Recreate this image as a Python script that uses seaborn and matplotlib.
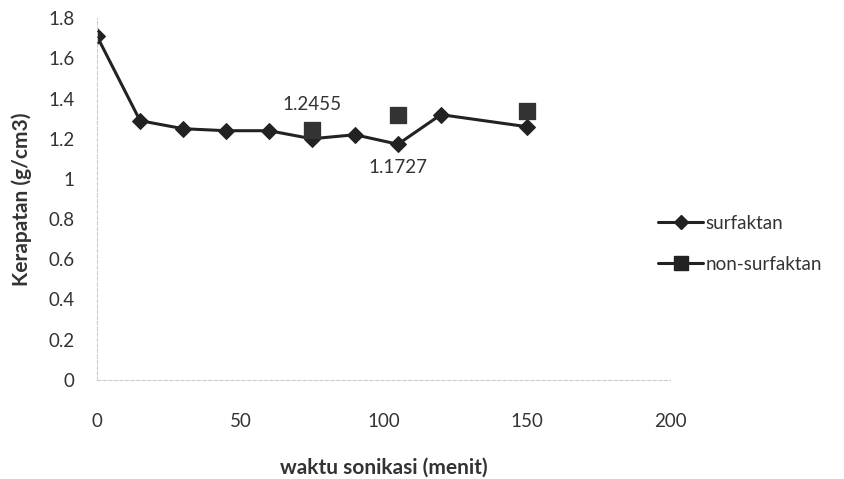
import pandas as pd
import seaborn as sns
import matplotlib.pyplot as plt
from matplotlib.lines import Line2D

# data
waktu_surf = [0, 15, 30, 45, 60, 75, 90, 105, 120, 150]
kerapatan_surf = [1.71, 1.29, 1.25, 1.24, 1.24, 1.20, 1.22, 1.1727, 1.32, 1.26]
waktu_non = [75, 105, 150]
kerapatan_non = [1.2455, 1.32, 1.34]
x_ticks = [0, 50, 100, 150, 200]
y_ticks = [0, 0.2, 0.4, 0.6, 0.8, 1, 1.2, 1.4, 1.6, 1.8]

sns.set_style("white")
plt.rcParams["font.family"] = ["Lato", "DejaVu Sans"]

df_surf = pd.DataFrame({"waktu": waktu_surf, "kerapatan": kerapatan_surf})
df_non = pd.DataFrame({"waktu": waktu_non, "kerapatan": kerapatan_non})

fig = plt.figure(figsize=(8.44, 4.79), dpi=100)
ax = fig.add_axes([0.115, 0.207, 0.679, 0.755])

sns.lineplot(data=df_surf, x="waktu", y="kerapatan", ax=ax, color="#222222",
             linewidth=2.2, marker="D", markersize=8, markeredgecolor="#222222")
sns.scatterplot(data=df_non, x="waktu", y="kerapatan", ax=ax, color="#333333",
                marker="s", s=140, edgecolor="#333333", zorder=3)

ax.text(75, 1.33, "1.2455", ha="center", va="bottom", fontsize=13.5, color="#333333")
ax.text(105, 1.10, "1.1727", ha="center", va="top", fontsize=13.5, color="#333333")

ax.set_xlim(0, 200)
ax.set_ylim(0, 1.8)
ax.set_xticks(x_ticks)
ax.set_yticks(y_ticks)
ax.set_yticklabels([f"{v:g}" for v in y_ticks])
ax.tick_params(axis="x", length=0, pad=24, labelsize=13.5, labelcolor="#333333")
ax.tick_params(axis="y", length=0, pad=16, labelsize=13.5, labelcolor="#333333")

for side in ["top", "right"]:
    ax.spines[side].set_visible(False)
for side in ["left", "bottom"]:
    ax.spines[side].set_color("#cccccc")
    ax.spines[side].set_linestyle((0, (3, 2)))
    ax.spines[side].set_linewidth(0.8)

ax.set_xlabel("waktu sonikasi (menit)", fontsize=15, fontweight="bold",
              color="#333333", labelpad=20)
ax.set_ylabel("Kerapatan (g/cm3)", fontsize=15, fontweight="bold",
              color="#333333", labelpad=12)

handles = [
    Line2D([], [], color="#222222", linewidth=2.2, marker="D", markersize=7),
    Line2D([], [], color="#222222", linewidth=2.2, marker="s", markersize=10),
]
ax.legend(handles, ["surfaktan", "non-surfaktan"], loc="center left",
          bbox_to_anchor=(0.95, 0.376), frameon=False, fontsize=13.5,
          handlelength=2.4, handletextpad=0.1, labelspacing=1.3,
          labelcolor="#333333")

fig.savefig("out.png", dpi=100)
